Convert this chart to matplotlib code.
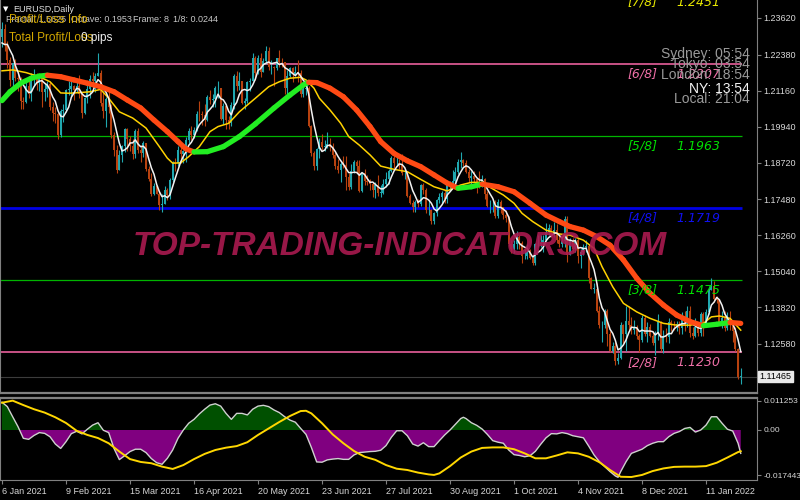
import numpy as np
import pandas as pd
import matplotlib
matplotlib.use("Agg")
import matplotlib.pyplot as plt

# EURUSD daily bars, 30 Dec 2020 .. 28 Jan 2022 (first 4 bars = warm-up, off-screen)
closes = [1.2297, 1.2216, 1.2251, 1.2297,
    1.2326, 1.2270, 1.2220, 1.2152, 1.2208, 1.2157, 1.2155, 1.2080, 1.2076, 1.2130,
    1.2106, 1.2164, 1.2170, 1.2141, 1.2160, 1.2112, 1.2122, 1.2137, 1.2061, 1.2041,
    1.2035, 1.1964, 1.2046, 1.2050, 1.2119, 1.2120, 1.2132, 1.2118, 1.2130, 1.2104,
    1.2040, 1.2091, 1.2120, 1.2156, 1.2150, 1.2165, 1.2175, 1.2075, 1.2047, 1.2089,
    1.2061, 1.1966, 1.1915, 1.1848, 1.1899, 1.1928, 1.1985, 1.1951, 1.1929, 1.1901,
    1.1978, 1.1916, 1.1905, 1.1937, 1.1851, 1.1815, 1.1764, 1.1794, 1.1765, 1.1729,
    1.1730, 1.1780, 1.1762, 1.1813, 1.1873, 1.1871, 1.1913, 1.1900, 1.1910, 1.1947,
    1.1980, 1.1966, 1.1984, 1.2036, 1.2035, 1.2034, 1.2015, 1.2095, 1.2085, 1.2089,
    1.2125, 1.2125, 1.2020, 1.2063, 1.2015, 1.2005, 1.2066, 1.2164, 1.2130, 1.2150,
    1.2075, 1.2080, 1.2145, 1.2150, 1.2225, 1.2175, 1.2225, 1.2180, 1.2215, 1.2250,
    1.2195, 1.2195, 1.2193, 1.2226, 1.2213, 1.2212, 1.2126, 1.2166, 1.2191, 1.2173,
    1.2179, 1.2175, 1.2106, 1.2120, 1.2124, 1.1995, 1.1905, 1.1860, 1.1917, 1.1941,
    1.1925, 1.1929, 1.1936, 1.1925, 1.1896, 1.1859, 1.1847, 1.1866, 1.1865, 1.1822,
    1.1790, 1.1845, 1.1875, 1.1860, 1.1775, 1.1835, 1.1810, 1.1805, 1.1800, 1.1780,
    1.1795, 1.1770, 1.1770, 1.1800, 1.1815, 1.1845, 1.1887, 1.1870, 1.1870, 1.1865,
    1.1835, 1.1835, 1.1760, 1.1735, 1.1720, 1.1740, 1.1730, 1.1795, 1.1780, 1.1710,
    1.1710, 1.1675, 1.1700, 1.1745, 1.1755, 1.1770, 1.1750, 1.1795, 1.1795, 1.1810,
    1.1840, 1.1875, 1.1880, 1.1870, 1.1840, 1.1820, 1.1825, 1.1815, 1.1805, 1.1800,
    1.1815, 1.1765, 1.1725, 1.1725, 1.1725, 1.1690, 1.1740, 1.1720, 1.1695, 1.1685,
    1.1595, 1.1580, 1.1595, 1.1620, 1.1600, 1.1555, 1.1555, 1.1570, 1.1550, 1.1530,
    1.1595, 1.1595, 1.1600, 1.1610, 1.1635, 1.1650, 1.1625, 1.1645, 1.1610, 1.1595,
    1.1605, 1.1680, 1.1560, 1.1605, 1.1580, 1.1610, 1.1555, 1.1570, 1.1585, 1.1590,
    1.1480, 1.1445, 1.1445, 1.1370, 1.1320, 1.1320, 1.1370, 1.1290, 1.1235, 1.1250,
    1.1200, 1.1210, 1.1320, 1.1290, 1.1335, 1.1320, 1.1305, 1.1315, 1.1285, 1.1270,
    1.1345, 1.1290, 1.1315, 1.1285, 1.1260, 1.1290, 1.1330, 1.1240, 1.1285, 1.1280,
    1.1330, 1.1325, 1.1320, 1.1325, 1.1310, 1.1350, 1.1325, 1.1370, 1.1295, 1.1285,
    1.1315, 1.1295, 1.1360, 1.1325, 1.1365, 1.1440, 1.1455, 1.1410, 1.1405, 1.1325,
    1.1345, 1.1310, 1.1345, 1.1325, 1.1300, 1.1240, 1.1145, 1.1147]

highs = [1.2310, 1.2309, 1.2310, 1.2305,
    1.2349, 1.2342, 1.2283, 1.2230, 1.2210, 1.2222, 1.2180, 1.2163, 1.2093, 1.2144,
    1.2154, 1.2174, 1.2189, 1.2177, 1.2169, 1.2167, 1.2141, 1.2148, 1.2144, 1.2078,
    1.2060, 1.2043, 1.2052, 1.2070, 1.2123, 1.2150, 1.2149, 1.2135, 1.2144, 1.2169,
    1.2112, 1.2094, 1.2145, 1.2168, 1.2180, 1.2175, 1.2243, 1.2185, 1.2113, 1.2093,
    1.2113, 1.2069, 1.1974, 1.1930, 1.1915, 1.1932, 1.1990, 1.1990, 1.1963, 1.1952,
    1.1986, 1.1990, 1.1933, 1.1945, 1.1940, 1.1860, 1.1835, 1.1804, 1.1797, 1.1775,
    1.1765, 1.1791, 1.1785, 1.1820, 1.1877, 1.1888, 1.1928, 1.1928, 1.1915, 1.1960,
    1.1990, 1.1995, 1.1994, 1.2048, 1.2080, 1.2048, 1.2069, 1.2100, 1.2117, 1.2104,
    1.2132, 1.2150, 1.2124, 1.2075, 1.2070, 1.2030, 1.2078, 1.2173, 1.2181, 1.2178,
    1.2150, 1.2092, 1.2150, 1.2160, 1.2245, 1.2233, 1.2237, 1.2243, 1.2226, 1.2266,
    1.2265, 1.2218, 1.2200, 1.2227, 1.2254, 1.2225, 1.2210, 1.2185, 1.2195, 1.2197,
    1.2200, 1.2218, 1.2185, 1.2131, 1.2136, 1.2130, 1.2000, 1.1910, 1.1921, 1.1955,
    1.1970, 1.1949, 1.1975, 1.1954, 1.1937, 1.1907, 1.1885, 1.1875, 1.1894, 1.1895,
    1.1835, 1.1868, 1.1880, 1.1880, 1.1880, 1.1838, 1.1850, 1.1830, 1.1815, 1.1805,
    1.1805, 1.1830, 1.1795, 1.1815, 1.1840, 1.1850, 1.1895, 1.1909, 1.1892, 1.1885,
    1.1900, 1.1845, 1.1845, 1.1765, 1.1745, 1.1745, 1.1750, 1.1800, 1.1803, 1.1785,
    1.1745, 1.1715, 1.1705, 1.1750, 1.1770, 1.1775, 1.1780, 1.1805, 1.1810, 1.1846,
    1.1857, 1.1885, 1.1909, 1.1885, 1.1880, 1.1850, 1.1845, 1.1845, 1.1820, 1.1845,
    1.1830, 1.1820, 1.1775, 1.1745, 1.1750, 1.1745, 1.1750, 1.1745, 1.1720, 1.1710,
    1.1690, 1.1610, 1.1610, 1.1640, 1.1625, 1.1605, 1.1580, 1.1595, 1.1580, 1.1560,
    1.1600, 1.1625, 1.1625, 1.1625, 1.1668, 1.1665, 1.1660, 1.1670, 1.1665, 1.1625,
    1.1620, 1.1692, 1.1690, 1.1615, 1.1615, 1.1615, 1.1615, 1.1580, 1.1595, 1.1610,
    1.1595, 1.1485, 1.1465, 1.1465, 1.1385, 1.1335, 1.1375, 1.1375, 1.1300, 1.1265,
    1.1265, 1.1225, 1.1330, 1.1325, 1.1385, 1.1385, 1.1350, 1.1340, 1.1320, 1.1290,
    1.1355, 1.1355, 1.1330, 1.1325, 1.1300, 1.1300, 1.1360, 1.1335, 1.1305, 1.1310,
    1.1345, 1.1340, 1.1335, 1.1335, 1.1335, 1.1365, 1.1370, 1.1385, 1.1385, 1.1315,
    1.1345, 1.1330, 1.1365, 1.1365, 1.1375, 1.1455, 1.1482, 1.1470, 1.1420, 1.1410,
    1.1370, 1.1370, 1.1365, 1.1370, 1.1335, 1.1315, 1.1245, 1.1175]

lows = [1.2245, 1.2212, 1.2245, 1.2230,
    1.2265, 1.2250, 1.2192, 1.2132, 1.2133, 1.2150, 1.2115, 1.2055, 1.2054, 1.2073,
    1.2092, 1.2080, 1.2130, 1.2118, 1.2115, 1.2059, 1.2080, 1.2095, 1.2050, 1.2012,
    1.2005, 1.1952, 1.1960, 1.2010, 1.2043, 1.2100, 1.2098, 1.2085, 1.2110, 1.2090,
    1.2023, 1.2037, 1.2074, 1.2091, 1.2121, 1.2112, 1.2165, 1.2064, 1.2024, 1.1992,
    1.2040, 1.1956, 1.1893, 1.1836, 1.1850, 1.1875, 1.1908, 1.1910, 1.1910, 1.1883,
    1.1887, 1.1906, 1.1873, 1.1890, 1.1842, 1.1809, 1.1760, 1.1763, 1.1764, 1.1711,
    1.1704, 1.1730, 1.1745, 1.1747, 1.1805, 1.1845, 1.1860, 1.1870, 1.1870, 1.1873,
    1.1940, 1.1950, 1.1955, 1.1980, 1.2014, 1.2000, 1.1995, 1.2012, 1.2070, 1.2060,
    1.2060, 1.2090, 1.2015, 1.2003, 1.1985, 1.1985, 1.1997, 1.2052, 1.2115, 1.2117,
    1.2070, 1.2052, 1.2075, 1.2115, 1.2148, 1.2152, 1.2172, 1.2162, 1.2185, 1.2207,
    1.2187, 1.2172, 1.2133, 1.2185, 1.2195, 1.2195, 1.2104, 1.2105, 1.2162, 1.2145,
    1.2165, 1.2145, 1.2093, 1.2093, 1.2100, 1.1991, 1.1893, 1.1846, 1.1848, 1.1887,
    1.1913, 1.1912, 1.1920, 1.1910, 1.1886, 1.1850, 1.1835, 1.1807, 1.1855, 1.1780,
    1.1780, 1.1782, 1.1835, 1.1835, 1.1772, 1.1772, 1.1795, 1.1795, 1.1780, 1.1755,
    1.1753, 1.1760, 1.1755, 1.1765, 1.1790, 1.1800, 1.1840, 1.1855, 1.1860, 1.1850,
    1.1830, 1.1815, 1.1755, 1.1730, 1.1706, 1.1705, 1.1720, 1.1725, 1.1765, 1.1700,
    1.1693, 1.1665, 1.1664, 1.1690, 1.1735, 1.1735, 1.1735, 1.1735, 1.1775, 1.1785,
    1.1800, 1.1833, 1.1855, 1.1860, 1.1835, 1.1805, 1.1800, 1.1805, 1.1770, 1.1785,
    1.1790, 1.1750, 1.1720, 1.1700, 1.1705, 1.1685, 1.1685, 1.1700, 1.1680, 1.1670,
    1.1590, 1.1565, 1.1565, 1.1580, 1.1580, 1.1530, 1.1545, 1.1545, 1.1545, 1.1525,
    1.1525, 1.1585, 1.1585, 1.1570, 1.1605, 1.1625, 1.1620, 1.1620, 1.1600, 1.1585,
    1.1585, 1.1585, 1.1535, 1.1560, 1.1570, 1.1570, 1.1530, 1.1515, 1.1560, 1.1570,
    1.1465, 1.1445, 1.1430, 1.1365, 1.1310, 1.1265, 1.1310, 1.1250, 1.1230, 1.1225,
    1.1186, 1.1190, 1.1205, 1.1260, 1.1235, 1.1305, 1.1290, 1.1290, 1.1275, 1.1230,
    1.1265, 1.1285, 1.1265, 1.1280, 1.1255, 1.1220, 1.1270, 1.1235, 1.1225, 1.1265,
    1.1260, 1.1300, 1.1305, 1.1300, 1.1290, 1.1290, 1.1300, 1.1315, 1.1280, 1.1275,
    1.1280, 1.1285, 1.1285, 1.1285, 1.1315, 1.1360, 1.1440, 1.1400, 1.1395, 1.1320,
    1.1310, 1.1300, 1.1305, 1.1305, 1.1265, 1.1235, 1.1140, 1.1122]
n_warm = 4

# thick trend line (green rising / orange falling)
trend_bars = [0, 3, 7, 11, 14, 17, 22, 27, 32, 37, 42, 47, 52, 57, 62, 66, 69, 72, 77, 83,
              89, 95, 102, 108, 113, 115, 118, 123, 128, 133, 138, 142, 147, 152, 157, 162, 167, 171, 176, 180,
              186, 192, 198, 204, 209, 213, 218, 223, 228, 233, 238, 243, 248, 253, 258, 263, 268, 273, 277]
trend_vals = [1.2082, 1.2112, 1.2141, 1.2158, 1.2165, 1.2168, 1.2163, 1.2152, 1.2141, 1.2129,
              1.2112, 1.2084, 1.2057, 1.2016, 1.1977, 1.1943, 1.1918, 1.1908, 1.1909, 1.1926,
              1.1960, 1.2003, 1.2057, 1.2101, 1.2135, 1.2144, 1.2143, 1.2124, 1.2095, 1.2050,
              1.1994, 1.1943, 1.1903, 1.1878, 1.1858, 1.1830, 1.1802, 1.1785, 1.1790, 1.1799,
              1.1790, 1.1773, 1.1734, 1.1694, 1.1672, 1.1655, 1.1643, 1.1621, 1.1592, 1.1542,
              1.1480, 1.1429, 1.1389, 1.1355, 1.1333, 1.1319, 1.1324, 1.1330, 1.1327]

# yellow moving average
ma_bars = [0, 4, 9, 14, 18, 22, 25, 29, 33, 37, 40, 44, 49, 54, 59, 62, 64, 67, 70, 74,
           78, 81, 85, 89, 95, 100, 104, 108, 112, 114, 117, 119, 123, 127, 130, 134, 138, 142, 147, 152,
           157, 162, 167, 172, 176, 179, 183, 188, 192, 195, 199, 204, 209, 213, 218, 222, 225, 229, 233, 238,
           243, 248, 253, 258, 263, 266, 269, 273, 277]
ma_vals = [1.2183, 1.2186, 1.2177, 1.2163, 1.2146, 1.2108, 1.2107, 1.2109, 1.2112, 1.2120,
           1.2090, 1.2044, 1.2023, 1.1989, 1.1926, 1.1887, 1.1870, 1.1871, 1.1892, 1.1926,
           1.1977, 1.1994, 1.2005, 1.2044, 1.2090, 1.2129, 1.2146, 1.2158, 1.2161, 1.2152,
           1.2124, 1.2090, 1.2050, 1.2005, 1.1960, 1.1931, 1.1898, 1.1860, 1.1849, 1.1841,
           1.1815, 1.1790, 1.1776, 1.1796, 1.1805, 1.1805, 1.1788, 1.1762, 1.1734, 1.1700,
           1.1672, 1.1643, 1.1630, 1.1626, 1.1609, 1.1581, 1.1519, 1.1451, 1.1395, 1.1366,
           1.1344, 1.1327, 1.1321, 1.1321, 1.1327, 1.1349, 1.1352, 1.1344, 1.1304]

# lower panel oscillator
osc_bars = [0, 2, 4, 6, 8, 10, 12, 14, 16, 18, 20, 22, 24, 26, 28, 30, 32, 34, 36, 38,
            40, 42, 44, 46, 48, 50, 52, 54, 56, 58, 60, 62, 64, 66, 68, 70, 72, 74, 76, 78,
            80, 82, 84, 86, 88, 90, 92, 94, 96, 98, 100, 102, 104, 106, 108, 110, 112, 114, 116, 118,
            120, 122, 124, 126, 128, 130, 132, 134, 136, 138, 140, 142, 144, 146, 148, 150, 152, 154, 156, 158,
            160, 162, 164, 166, 168, 170, 172, 173, 174, 176, 178, 180, 182, 184, 186, 188, 190, 192, 194, 196,
            198, 200, 202, 204, 206, 208, 210, 212, 214, 216, 218, 220, 222, 224, 226, 228, 230, 231, 232, 234,
            236, 238, 240, 242, 244, 246, 248, 250, 252, 254, 256, 258, 260, 262, 264, 266, 268, 270, 272, 274,
            276, 277]
osc_vals = [0.0107, 0.0090, 0.0051, 0.0013, -0.0032, -0.0036, -0.0021, -0.0010, -0.0013, -0.0026,
            -0.0054, -0.0071, -0.0045, -0.0014, -0.0005, -0.0015, 0.0003, 0.0019, 0.0028, -0.0001,
            -0.0010, -0.0071, -0.0114, -0.0099, -0.0083, -0.0074, -0.0074, -0.0087, -0.0110, -0.0126,
            -0.0132, -0.0109, -0.0077, -0.0032, 0.0000, 0.0026, 0.0041, 0.0062, 0.0080, 0.0096,
            0.0101, 0.0092, 0.0064, 0.0041, 0.0064, 0.0064, 0.0058, 0.0080, 0.0092, 0.0095,
            0.0090, 0.0077, 0.0067, 0.0051, 0.0038, 0.0030, 0.0006, -0.0017, -0.0067, -0.0123,
            -0.0124, -0.0115, -0.0112, -0.0110, -0.0113, -0.0113, -0.0096, -0.0087, -0.0085, -0.0083,
            -0.0082, -0.0078, -0.0060, -0.0028, -0.0003, -0.0003, -0.0022, -0.0054, -0.0062, -0.0049,
            -0.0064, -0.0064, -0.0041, -0.0019, 0.0000, 0.0022, 0.0044, 0.0049, 0.0044, 0.0028,
            0.0018, 0.0004, -0.0017, -0.0041, -0.0047, -0.0051, -0.0077, -0.0095, -0.0098, -0.0103,
            -0.0099, -0.0082, -0.0055, -0.0030, -0.0014, -0.0015, -0.0010, -0.0014, -0.0022, -0.0026,
            -0.0030, -0.0062, -0.0096, -0.0122, -0.0141, -0.0160, -0.0177, -0.0182, -0.0160, -0.0122,
            -0.0090, -0.0082, -0.0074, -0.0060, -0.0051, -0.0045, -0.0045, -0.0026, -0.0013, -0.0006,
            0.0006, 0.0010, -0.0008, 0.0000, 0.0019, 0.0051, 0.0051, 0.0026, 0.0003, -0.0004,
            -0.0051, -0.0090]
sig_bars = [0, 4, 8, 12, 16, 20, 24, 28, 32, 36, 40, 44, 48, 52, 56, 60, 64, 68, 72, 76,
            80, 84, 88, 92, 96, 100, 104, 108, 112, 114, 116, 120, 124, 128, 132, 136, 140, 144, 148, 152,
            156, 160, 162, 164, 168, 172, 176, 180, 184, 188, 192, 196, 200, 204, 208, 212, 216, 220, 224, 228,
            232, 236, 240, 244, 248, 252, 256, 260, 264, 268, 272, 276, 277]
sig_vals = [0.0105, 0.0113, 0.0096, 0.0080, 0.0067, 0.0049, 0.0027, -0.0003, -0.0019, -0.0031,
            -0.0051, -0.0083, -0.0112, -0.0123, -0.0128, -0.0141, -0.0150, -0.0135, -0.0112, -0.0092,
            -0.0077, -0.0068, -0.0062, -0.0047, -0.0019, 0.0006, 0.0031, 0.0054, 0.0073, 0.0074,
            0.0064, 0.0026, -0.0017, -0.0051, -0.0081, -0.0103, -0.0115, -0.0135, -0.0149, -0.0154,
            -0.0164, -0.0171, -0.0173, -0.0167, -0.0139, -0.0106, -0.0083, -0.0069, -0.0067, -0.0067,
            -0.0074, -0.0090, -0.0109, -0.0109, -0.0098, -0.0086, -0.0090, -0.0103, -0.0124, -0.0154,
            -0.0180, -0.0181, -0.0173, -0.0158, -0.0148, -0.0142, -0.0141, -0.0141, -0.0139, -0.0126,
            -0.0106, -0.0085, -0.0082]

# Murrey math levels
levels = [1.2451, 1.2207, 1.1963, 1.1719, 1.1475, 1.1230]
level_names = ["[7/8]", "[6/8]", "[5/8]", "[4/8]", "[3/8]", "[2/8]"]
level_colors = ["#e8e800", "#e8609c", "#00b400", "#0000e6", "#00b400", "#e8609c"]
level_text_colors = ["#e8e800", "#f070a8", "#00e000", "#1010f0", "#00e000", "#f070a8"]
level_widths = [1, 1.2, 0.9, 2, 0.9, 1.2]

price_ticks = [1.23620, 1.22380, 1.21160, 1.19940, 1.18720, 1.17480, 1.16260, 1.15040, 1.13820, 1.12580]
osc_ticks = [0.011253, 0.0, -0.017443]
osc_tick_labels = ["0.011253", "0.00", "-0.017443"]
date_bars = [0, 24, 48, 72, 96, 120, 144, 168, 192, 216, 240, 264]
date_labels = ["6 Jan 2021", "9 Feb 2021", "15 Mar 2021", "16 Apr 2021", "20 May 2021", "23 Jun 2021",
               "27 Jul 2021", "30 Aug 2021", "1 Oct 2021", "4 Nov 2021", "8 Dec 2021", "11 Jan 2022"]
last_price = 1.11465

narrow = ['Liberation Sans Narrow', 'Liberation Sans', 'DejaVu Sans']

fig = plt.figure(figsize=(8, 5), dpi=100, facecolor='black')
ax = fig.add_axes([0, 1 - 393 / 500, 757 / 800, 393 / 500], facecolor='black')
ax2 = fig.add_axes([0, 20 / 500, 757 / 800, 82 / 500], facecolor='black')

c = np.array(closes)
h = np.array(highs)
l = np.array(lows)
assert len(c) == len(h) == len(l)
o = np.r_[c[0], c[:-1]]
h = np.maximum(h, np.maximum(o, c))
l = np.minimum(l, np.minimum(o, c))
bars = np.arange(len(c)) - n_warm
white = pd.Series(c).rolling(5).mean().values

# levels
for lv, col, lw in zip(levels, level_colors, level_widths):
    ax.hlines(lv, -1, 277.5, color=col, lw=lw, zorder=1)
ax.axhline(last_price, color='#3c3c3c', lw=0.8, zorder=1)

# candles
up = c >= o
for mask, col in [(up, '#20a8b0'), (~up, '#b8420f')]:
    ax.vlines(bars[mask], l[mask], h[mask], color=col, lw=0.8, zorder=2)
    ax.bar(bars[mask], np.maximum(np.abs(c - o)[mask], 0.00012), bottom=np.minimum(o, c)[mask],
           width=0.7, color=col, lw=0, zorder=2)

ax.plot(ma_bars, ma_vals, color='#ffd200', lw=1.1, zorder=3)
ax.plot(bars[n_warm:], white[n_warm:], color='#f2f2f2', lw=1.1, zorder=4)

for i in range(len(trend_bars) - 1):
    col = '#22ee22' if trend_vals[i + 1] > trend_vals[i] else '#ff4a14'
    ax.plot(trend_bars[i:i + 2], trend_vals[i:i + 2], color=col, lw=3.8,
            solid_capstyle='round', zorder=5)

for lv, name, tc in zip(levels, level_names, level_text_colors):
    ax.annotate(name, xy=(234.7, lv), xytext=(0, -3), textcoords='offset points', va='top',
                ha='left', color=tc, fontsize=9, style='italic', zorder=6, annotation_clip=False)
    ax.annotate(f"{lv:.4f}", xy=(253, lv), xytext=(0, -3), textcoords='offset points', va='top',
                ha='left', color=tc, fontsize=9, style='italic', zorder=6, annotation_clip=False)

ax.text(400 / 757, 1 - 246 / 393, "TOP-TRADING-INDICATORS.COM", transform=ax.transAxes,
        ha='center', va='center', fontsize=24, fontweight='bold', style='italic',
        family=narrow, color='#aa1a50', alpha=0.9, zorder=7)

ax.set_xlim(-0.75, 283.1)
ax.set_ylim(1.1091, 1.2423)
ax.set_xticks([])
ax.yaxis.tick_right()
ax.set_yticks(price_ticks)
ax.set_yticklabels([f"{t:.5f}" for t in price_ticks])
ax.annotate(f"{last_price:.5f}", xy=(1.0, last_price), xycoords=('axes fraction', 'data'),
            xytext=(2, 0), textcoords='offset points', va='center', ha='left', fontsize=6.5,
            family=narrow, color='black',
            bbox=dict(boxstyle='square,pad=0.15', fc='#e8e8e8', ec='#e8e8e8'))

# lower panel
ov = np.array(osc_vals)
ax2.fill_between(osc_bars, 0, ov, where=ov >= 0, interpolate=True, color='#005000', lw=0)
ax2.fill_between(osc_bars, 0, ov, where=ov <= 0, interpolate=True, color='#800080', lw=0)
ax2.plot(osc_bars, osc_vals, color='#d0d0d0', lw=1.0)
ax2.plot(sig_bars, sig_vals, color='#ffd700', lw=1.4)
ax2.set_xlim(-0.75, 283.1)
ax2.set_ylim(-0.01925, 0.01232)
ax2.yaxis.tick_right()
ax2.set_yticks(osc_ticks)
ax2.set_yticklabels(osc_tick_labels)
ax2.set_xticks(date_bars)
ax2.set_xticklabels(date_labels)
for lbl in ax2.get_xticklabels():
    lbl.set_ha('left')

for a in (ax, ax2):
    for s in a.spines.values():
        s.set_color('#808080')
    a.tick_params(colors='#808080', labelcolor='#d8d8d8', labelsize=6.5, length=3, width=0.8, pad=1.5)
    for lbl in a.get_xticklabels() + a.get_yticklabels():
        lbl.set_family(narrow)
ax2.tick_params(axis='y', labelsize=6)
ax.spines['top'].set_visible(False)
ax.spines['bottom'].set_linewidth(1.6)
ax2.spines['top'].set_linewidth(1.6)
ax2.tick_params(axis='x', pad=2)

# header texts
fig.text(3 / 800, 1 - 9 / 500, "\u25bc", color='white', fontsize=5, va='center', ha='left')
fig.text(13 / 800, 1 - 9 / 500, "EURUSD,Daily", color='#e0e0e0', fontsize=6.5, family=narrow, va='center')
for x, s in [(6, "Fractal: 1.5625"), (71, "Octave: 0.1953"), (133, "Frame: 8"), (173, "1/8: 0.0244")]:
    fig.text(x / 800, 1 - 19 / 500, s, color='#c8c8c8', fontsize=6.5, family=narrow, va='center')
fig.text(9 / 800, 1 - 20 / 500, "Profit/Loss Info", color='#d4a800', fontsize=8.5, family=narrow, va='center')
fig.text(9 / 800, 1 - 38 / 500, "Total Profit/Loss", color='#d4a800', fontsize=8.5, family=narrow, va='center')
fig.text(81 / 800, 1 - 38 / 500, "0 pips", color='#f0f0f0', fontsize=8.5, family=narrow, va='center')

for y, s, col in [(54, "Sydney: 05:54", '#9a9a9a'), (64, "Tokyo: 03:54", '#9a9a9a'),
                  (75, "London: 18:54", '#9a9a9a'), (89, "NY: 13:54", '#f4f4f4'),
                  (99, "Local: 21:04", '#9a9a9a')]:
    fig.text(750 / 800, 1 - y / 500, s, color=col, fontsize=10, family=narrow, ha='right', va='center')

fig.savefig("out.png", dpi=100, facecolor='black')
